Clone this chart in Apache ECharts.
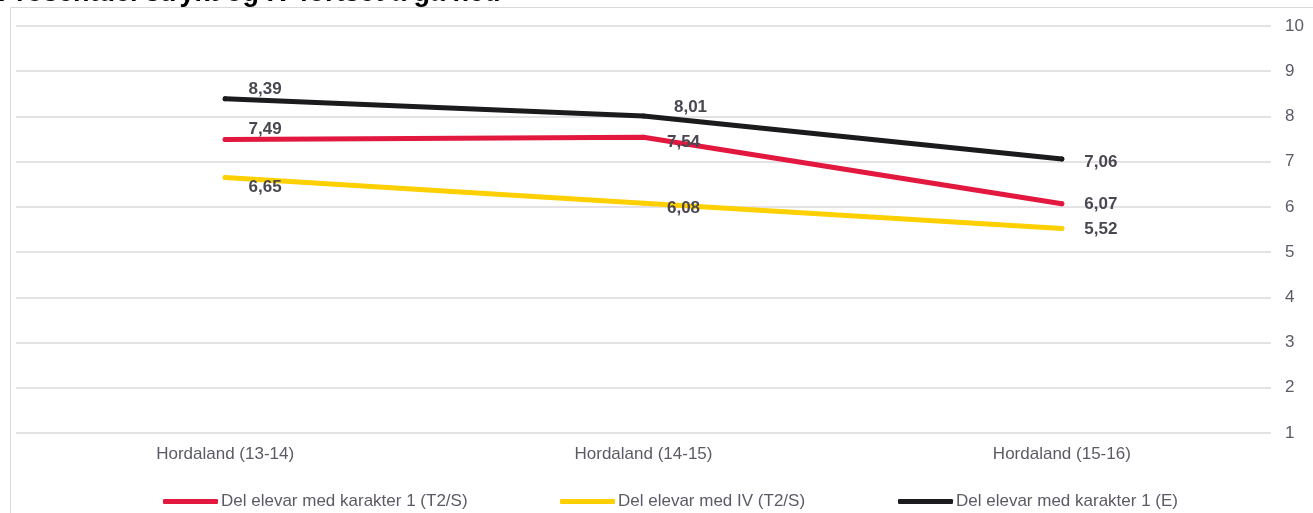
<!DOCTYPE html>
<html>
<head>
<meta charset="utf-8">
<script src="https://cdn.jsdelivr.net/npm/echarts@6/dist/echarts.min.js"></script>
<style>html,body{margin:0;padding:0;background:#fff}#c{width:1313px;height:513px}</style>
</head>
<body>
<div id="c"></div>
<script>
var titleText = 'Prosentdel strykt og IV fortset å gå ned';
var categories = ['Hordaland (13-14)', 'Hordaland (14-15)', 'Hordaland (15-16)'];
var seriesNames = ['Del elevar med karakter 1 (T2/S)', 'Del elevar med IV (T2/S)', 'Del elevar med karakter 1 (E)'];
var karakter1T2S = [7.49, 7.54, 6.07];
var ivT2S = [6.65, 6.08, 5.52];
var karakter1E = [8.39, 8.01, 7.06];
var yTicks = [1, 2, 3, 4, 5, 6, 7, 8, 9, 10];

var colors = ['#E2183F', '#FFD000', '#1B1A1C'];
var labelDy = [[-10, 5, 1], [10, 5, 1], [-9, -9, 3]];
var labelDx = [[40, 40, 39], [40, 40, 39], [40, 47, 39]];
var values = [karakter1T2S, ivT2S, karakter1E];

function fmt(v) { return v.toFixed(2).replace('.', ','); }

var chart = echarts.init(document.getElementById('c'));
var series = values.map(function (arr, si) {
  return {
    name: seriesNames[si],
    type: 'line',
    data: arr.map(function (v, i) {
      return { value: v, label: { offset: [labelDx[si][i], labelDy[si][i]] } };
    }),
    symbol: 'circle',
    symbolSize: 5,
    showSymbol: true,
    itemStyle: { color: colors[si] },
    lineStyle: { color: colors[si], width: 5, cap: 'round', join: 'round' },
    label: {
      show: true,
      position: 'inside',
      formatter: function (p) { return fmt(p.value); },
      color: '#4B4752',
      fontWeight: 'bold',
      fontSize: 17,
      fontFamily: 'Liberation Sans, Arial, sans-serif'
    },
    emphasis: { disabled: true },
    animation: false,
    z: 2
  };
});
var legendLefts = [163, 560, 898];
var option = {
  animation: false,
  textStyle: { fontFamily: 'Liberation Sans, Arial, sans-serif' },
  grid: { left: 16, right: 42, top: 26, bottom: 80, containLabel: false },
  graphic: [
    { type: 'rect', shape: { x: 10.5, y: 7.5, width: 1400, height: 600 }, style: { fill: 'none', stroke: '#D9D9D9', lineWidth: 1 }, silent: true, z: -1 },
    { type: 'text', left: -2, top: -20, style: { text: titleText, fill: '#000', font: 'bold 27px "Liberation Sans", Arial, sans-serif' }, silent: true }
  ],
  legend: seriesNames.map(function (n, i) {
    return {
      data: [{ name: n, icon: 'roundRect' }],
      left: legendLefts[i],
      top: 493,
      itemWidth: 55,
      itemHeight: 5,
      padding: 0,
      selectedMode: false,
      itemStyle: { color: colors[i], opacity: 1 },
      textStyle: { color: '#5E5966', fontSize: 17, padding: [0, 0, 0, -2] }
    };
  }),
  xAxis: {
    type: 'category',
    data: categories,
    boundaryGap: true,
    axisLine: { show: false },
    axisTick: { show: false },
    axisLabel: { color: '#5E5966', fontSize: 17, margin: 13 }
  },
  yAxis: {
    type: 'value',
    position: 'right',
    min: yTicks[0],
    max: yTicks[yTicks.length - 1],
    interval: 1,
    axisLine: { show: false },
    axisTick: { show: false },
    axisLabel: { color: '#5E5966', fontSize: 17, margin: 14, align: 'left' },
    splitLine: { lineStyle: { color: '#DCD9DE', width: 1.5 } }
  },
  series: series
};
chart.setOption(option);
</script>
</body>
</html>
